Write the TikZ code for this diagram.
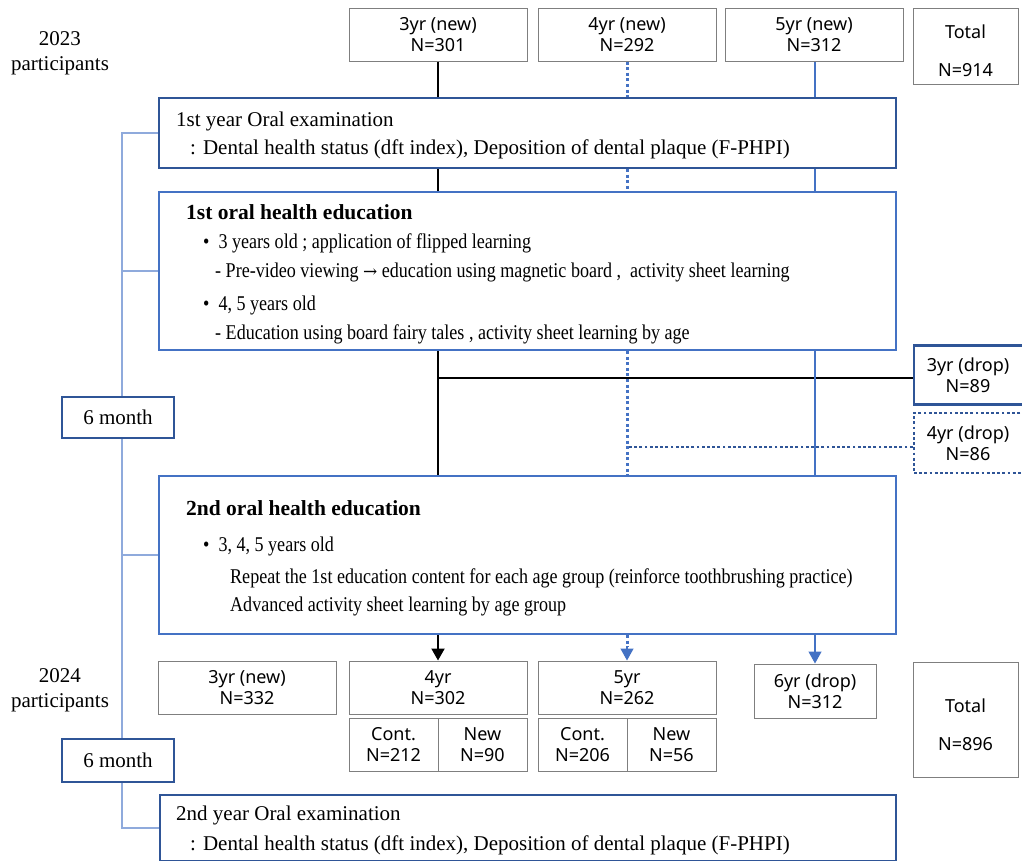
\documentclass[tikz,border=0pt]{standalone}
\usepackage{fontspec}
\setmainfont{Liberation Serif}
\newfontfamily\sansf{Noto Sans}
\newfontfamily\condf[FakeStretch=0.86]{Liberation Serif}
\usetikzlibrary{arrows.meta}
\definecolor{dkblue}{HTML}{2F5597}
\definecolor{mdblue}{HTML}{4472C4}
\definecolor{ltblue}{HTML}{8FAADC}
\definecolor{gbord}{HTML}{7F7F7F}
\tikzset{
  gbox/.style={draw=gbord, line width=1pt, fill=white, inner sep=0pt, align=center,
    font=\sansf\fontsize{18}{21}\selectfont},
  stxt/.style={inner sep=0pt, align=center, font=\sansf\fontsize{18}{38}\selectfont},
  dbox/.style={draw=dkblue, line width=2.2pt, fill=white, inner sep=0pt},
  ebox/.style={draw=mdblue, line width=2pt, fill=white, inner sep=0pt},
  dotbox/.style={draw=dkblue, line width=2.8pt, dash pattern=on 2.8pt off 2.4pt, fill=white, inner sep=0pt, align=center,
    font=\sansf\fontsize{18}{21}\selectfont},
  blk/.style={draw=black, line width=2pt},
  dotl/.style={draw=mdblue, line width=3pt, dash pattern=on 3pt off 2.6pt},
  bsol/.style={draw=mdblue, line width=1.2pt},
  tl/.style={draw=ltblue, line width=1.3pt},
  ser/.style={inner sep=0pt, anchor=west, font=\fontsize{21}{25}\selectfont},
  bld/.style={inner sep=0pt, anchor=west, font=\bfseries\fontsize{21.5}{25}\selectfont},
  cnd/.style={inner sep=0pt, anchor=west, font=\condf\fontsize{21}{25}\selectfont},
  yr/.style={inner sep=0pt, align=center, font=\fontsize{21}{25}\selectfont},
  tip/.style={-{Triangle[length=12pt,width=13pt]}}
}
\begin{document}
\begin{tikzpicture}[x=1pt,y=-1pt]
\useasboundingbox (0,0) rectangle (1022,860);
\clip (0,0) rectangle (1022,860);
% coordinates
\coordinate (tlx) at (122,0);
\coordinate (hb) at (0,377.5);
\coordinate (hd) at (0,447);
\coordinate (c3) at (438,0);
\coordinate (c4) at (627,0);
\coordinate (c5) at (815,0);
% boxes
\node[gbox, minimum width=178pt, minimum height=53pt] (t3) at (438,34.5) {3yr (new)\\N=301};
\node[gbox, minimum width=178pt, minimum height=53pt] (t4) at (627,34.5) {4yr (new)\\N=292};
\node[gbox, minimum width=178pt, minimum height=53pt] (t5) at (814,34.5) {5yr (new)\\N=312};
\node[gbox, minimum width=105pt, minimum height=76pt] (tot1) at (965.5,46) {};
\node[stxt] (tot1t) at (965.5,51) {Total\\N=914};
\node[yr] (y23) at (60,53) {2023\\participants};

\node[dbox, minimum width=737pt, minimum height=70pt] (exam1) at (527.5,133) {};
\node[ser] (exam1a) at (176,121) {1st year Oral examination};
\node[ser] (exam1b) at (190,149) {: Dental health status (dft index), Deposition of dental plaque (F-PHPI)};

\node[ebox, minimum width=737pt, minimum height=158pt] (edu1) at (527.5,271) {};
\node[bld] (edu1t) at (186,212) {1st oral health education};
\node[cnd] (edu1a) at (203,243) {\textbullet\ \ 3 years old ; application of flipped learning};
\node[cnd] (edu1b) at (215,272) {- Pre-video viewing {\fontspec{DejaVu Serif}\fontsize{17}{20}\selectfont →} education using magnetic board ,\ \ activity sheet learning};
\node[cnd] (edu1c) at (203,305) {\textbullet\ \ 4, 5 years old};
\node[cnd] (edu1d) at (215,334) {- Education using board fairy tales , activity sheet learning by age};

\node[dbox, minimum width=140pt, minimum height=59pt] (drop3) at (984,375) {};
\node[stxt, font=\sansf\fontsize{18}{21}\selectfont] (drop3t) at (968,375) {3yr (drop)\\N=89};
\node[dotbox, minimum width=140pt, minimum height=60pt] (drop4) at (984,443) {};
\node[stxt, font=\sansf\fontsize{18}{21}\selectfont] (drop4t) at (968,443) {4yr (drop)\\N=86};

\node[dbox, minimum width=112pt, minimum height=41pt, font=\fontsize{21}{25}\selectfont] (m1) at (118,417.5) {6 month};

\node[ebox, minimum width=737pt, minimum height=158pt] (edu2) at (527.5,555) {};
\node[bld] (edu2t) at (186,508) {2nd oral health education};
\node[cnd] (edu2a) at (203,546) {\textbullet\ \ 3, 4, 5 years old};
\node[cnd] (edu2b) at (230,578) {Repeat the 1st education content for each age group (reinforce toothbrushing practice)};
\node[cnd] (edu2c) at (230,606) {Advanced activity sheet learning by age group};

\node[yr] (y24) at (60,690) {2024\\participants};
\node[gbox, minimum width=178pt, minimum height=53pt] (b3) at (247,687.5) {3yr (new)\\N=332};
\node[gbox, minimum width=178pt, minimum height=53pt] (b4) at (438,687.5) {4yr\\N=302};
\node[gbox, minimum width=89pt, minimum height=53pt] (b4c) at (393.5,744.5) {Cont.\\N=212};
\node[gbox, minimum width=89pt, minimum height=53pt] (b4n) at (482.5,744.5) {New\\N=90};
\node[gbox, minimum width=178pt, minimum height=53pt] (b5) at (627,687.5) {5yr\\N=262};
\node[gbox, minimum width=89pt, minimum height=53pt] (b5c) at (582.5,744.5) {Cont.\\N=206};
\node[gbox, minimum width=89pt, minimum height=53pt] (b5n) at (671.5,744.5) {New\\N=56};
\node[gbox, minimum width=122pt, minimum height=54pt] (b6) at (815,691) {6yr (drop)\\N=312};
\node[gbox, minimum width=105pt, minimum height=115pt] (tot2) at (965.5,719.5) {};
\node[stxt] (tot2t) at (965.5,724.5) {Total\\N=896};

\node[dbox, minimum width=112pt, minimum height=43pt, font=\fontsize{21}{25}\selectfont] (m2) at (118,760.5) {6 month};

\node[dbox, minimum width=736pt, minimum height=66pt] (exam2) at (528,828) {};
\node[ser] (exam2a) at (176,815) {2nd year Oral examination};
\node[ser] (exam2b) at (190,845) {: Dental health status (dft index), Deposition of dental plaque (F-PHPI)};

% ---------- connectors ----------
% black (3yr)
\draw[blk] (t3.south) -- (t3.south |- exam1.north);
\draw[blk] (exam1.south -| c3) -- (edu1.north -| c3);
\draw[blk] (edu1.south -| c3) -- (edu2.north -| c3);
\draw[blk] (drop3.west |- hb) -- (c3 |- hb);
\draw[blk, tip] (edu2.south -| c3) -- (b4.north);
% dotted (4yr)
\draw[dotl] (t4.south) -- (t4.south |- exam1.north);
\draw[dotl] (exam1.south -| c4) -- (edu1.north -| c4);
\draw[dotl] (edu1.south -| c4) -- (edu2.north -| c4);
\draw[dkblue, line width=2.8pt, dash pattern=on 2.8pt off 2.4pt] (drop4.west |- hd) -- (c4 |- hd);
\draw[dotl] (edu2.south -| c4) -- ++(0,12);
\draw[mdblue, line width=1.2pt, tip] ([yshift=-12pt]edu2.south -| c4) -- (b5.north);
% solid blue (5yr)
\draw[bsol] (t5.south -| c5) -- (exam1.north -| c5);
\draw[bsol] (exam1.south -| c5) -- (edu1.north -| c5);
\draw[bsol] (edu1.south -| c5) -- (edu2.north -| c5);
\draw[bsol, tip] (edu2.south -| c5) -- (b6.north);
% timeline
\draw[tl] (exam1.west) -| (tlx |- m1.north);
\draw[tl] (edu1.west) -- (edu1.west -| tlx);
\draw[tl] (tlx |- m1.south) -- (tlx |- m2.north);
\draw[tl] (edu2.west) -- (edu2.west -| tlx);
\draw[tl] (tlx |- m2.south) |- (exam2.west);
\end{tikzpicture}
\end{document}
